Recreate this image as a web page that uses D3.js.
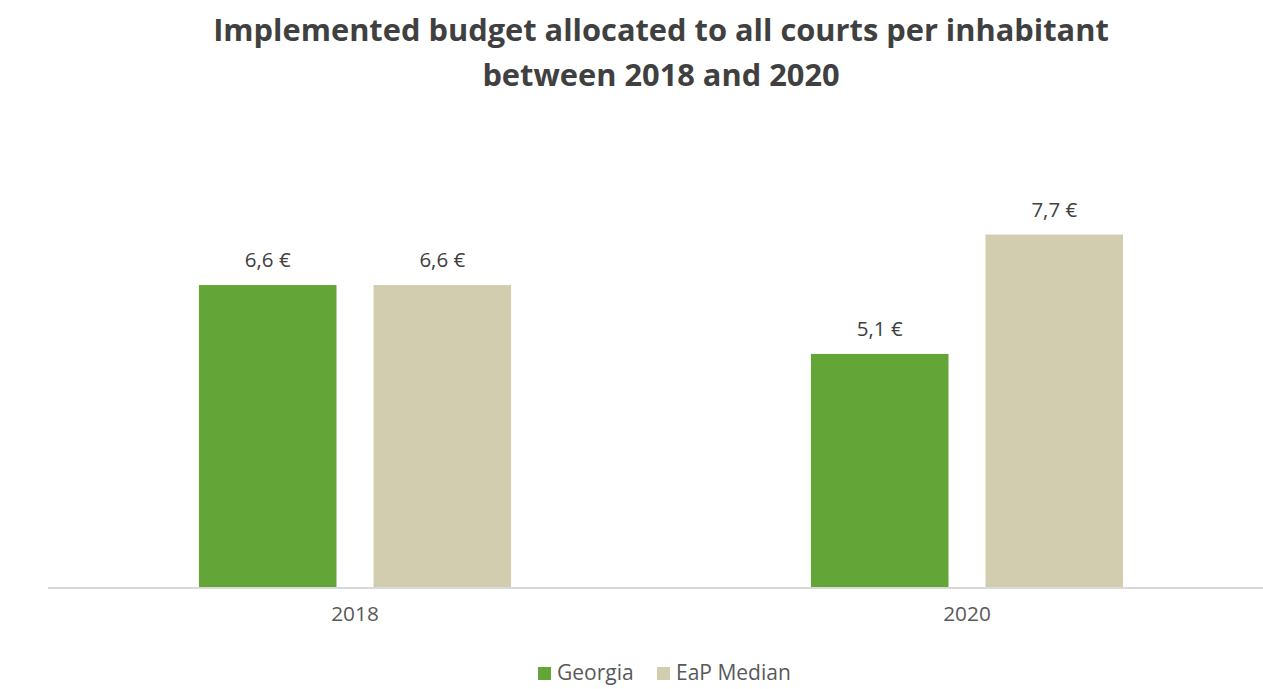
<!DOCTYPE html>
<html>
<head>
<meta charset="utf-8">
<script src="https://cdn.jsdelivr.net/npm/d3@7"></script>
<style>
  html, body { margin: 0; padding: 0; background: #fff; }
  svg { display: block; }
</style>
</head>
<body>
<svg id="chart" width="1263" height="689"></svg>
<script>
// Court budget per inhabitant (EUR)
const years = ["2018", "2020"];
const seriesNames = ["Georgia", "EaP Median"];
const georgia = [6.6, 5.1];
const eapMedian = [6.6, 7.7];
const valueLabels = [["6,6 €", "5,1 €"], ["6,6 €", "7,7 €"]];
const seriesValues = [georgia, eapMedian];
const colors = ["#63a537", "#d3cdb0"];

const svg = d3.select("#chart");
const font = "'Open Sans', sans-serif";
const textColor = "#595959";

// Title
const title = svg.append("text")
  .attr("text-anchor", "middle")
  .attr("font-family", font)
  .attr("font-weight", "bold")
  .attr("font-size", 30.8)
  .attr("fill", "#404040");
title.append("tspan").attr("x", 661).attr("y", 41)
  .text("Implemented budget allocated to all courts per inhabitant");
title.append("tspan").attr("x", 661).attr("y", 86)
  .text("between 2018 and 2020");

// Scales
const baseline = 588;
const y = d3.scaleLinear().domain([0, 9]).range([baseline, baseline - 9 * 45.9]);
const x0 = d3.scaleBand().domain(years).range([49, 1273])
  .paddingInner(0.49).paddingOuter(0.245);
const x1 = d3.scaleBand().domain(seriesNames).range([0, x0.bandwidth()])
  .paddingInner(0.212).paddingOuter(0);

// Bars
const rows = [];
seriesNames.forEach((s, si) => {
  years.forEach((yr, yi) => {
    rows.push({ series: s, si, year: yr, value: seriesValues[si][yi], label: valueLabels[si][yi] });
  });
});

svg.append("g").selectAll("rect").data(rows).join("rect")
  .attr("x", d => x0(d.year) + x1(d.series))
  .attr("y", d => y(d.value))
  .attr("width", x1.bandwidth())
  .attr("height", d => y(0) - y(d.value))
  .attr("fill", d => colors[d.si]);

// Value labels
svg.append("g").selectAll("text").data(rows).join("text")
  .attr("x", d => x0(d.year) + x1(d.series) + x1.bandwidth() / 2)
  .attr("y", d => y(d.value) - 18)
  .attr("text-anchor", "middle")
  .attr("font-family", font)
  .attr("font-size", 20.5)
  .attr("fill", "#404040")
  .text(d => d.label);

// Category axis
const xAxis = d3.axisBottom(x0).tickSize(0).tickPadding(18);
const gx = svg.append("g").attr("transform", `translate(0,${baseline})`).call(xAxis);
gx.select(".domain").attr("stroke", "#d9d9d9").attr("stroke-width", 2)
  .attr("d", `M48,0H1263`);
gx.selectAll(".tick text")
  .attr("font-family", font)
  .attr("font-size", 20.8)
  .attr("fill", textColor);

// Legend
const legendItems = [
  { name: seriesNames[0], color: colors[0], x: 538 },
  { name: seriesNames[1], color: colors[1], x: 657 }
];
const lg = svg.append("g");
legendItems.forEach(it => {
  lg.append("rect").attr("x", it.x).attr("y", 667).attr("width", 13).attr("height", 13)
    .attr("fill", it.color);
  lg.append("text").attr("x", it.x + 19).attr("y", 680)
    .attr("font-family", font).attr("font-size", 21).attr("fill", textColor)
    .text(it.name);
});
</script>
</body>
</html>
